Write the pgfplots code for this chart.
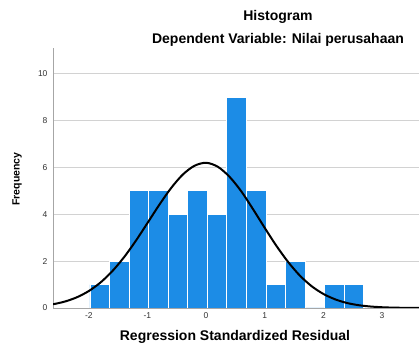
\documentclass[border=0pt]{standalone}
\usepackage{fontspec}
\setmainfont{Liberation Sans}
\usepackage{pgfplots}
\pgfplotsset{compat=1.18}
\definecolor{barblue}{RGB}{28,140,230}
\begin{document}
\begin{tikzpicture}[x=1pt,y=1pt]
\useasboundingbox (0pt,0pt) rectangle (419pt,344pt);
\begin{axis}[
  at={(53pt,36pt)}, anchor=south west,
  scale only axis, width=366pt, height=260pt,
  xmin=-2.61, xmax=3.63, ymin=0, ymax=11.1,
  axis x line*=bottom, axis y line*=left,
  axis line style={gray!70, -},
  xtick={-2,-1,0,1,2,3}, ytick={0,2,4,6,8,10},
  major tick length=0pt,
  ymajorgrids, grid style={gray!35, line width=0.6pt},
  /pgf/number format/assume math mode=true,
  tick label style={font=\fontsize{8.5}{9}\selectfont, text=black!80},
  yticklabel style={xshift=-2pt},
  xticklabel style={yshift=-1pt},
  clip=true,
]
\addplot[ybar interval, fill=barblue, draw=white, line width=0.8pt] coordinates {
(-1.980,1) (-1.647,2) (-1.313,5) (-0.980,5) (-0.647,4) (-0.313,5) (0.020,4)
(0.353,9) (0.687,5) (1.020,1) (1.353,2) (1.687,0) (2.020,1) (2.353,1) (2.687,1)
};
\addplot[black, line width=2pt, smooth] coordinates {
(-2.8,0.092) (-2.6,0.165) (-2.4,0.281) (-2.2,0.461) (-2.0,0.724) (-1.8,1.089)
(-1.6,1.569) (-1.4,2.165) (-1.2,2.861) (-1.0,3.625) (-0.8,4.397) (-0.6,5.110)
(-0.4,5.690) (-0.2,6.069) (0.0,6.200) (0.2,6.030) (0.4,5.600) (0.6,4.980)
(0.8,4.220) (1.0,3.420) (1.2,2.650) (1.4,1.960) (1.6,1.380) (1.8,0.930)
(2.0,0.600) (2.2,0.370) (2.4,0.215) (2.6,0.120) (2.8,0.064) (3.0,0.032)
(3.2,0.015) (3.4,0.007) (3.6,0.003) (3.8,0.001)
};
\end{axis}
\node[font=\bfseries\fontsize{14}{16}\selectfont] at (278pt,327pt) {Histogram};
\node[font=\bfseries\fontsize{14}{16}\selectfont] at (278pt,304pt) {Dependent Variable: Nilai perusahaan};
\node[font=\bfseries\fontsize{14}{16}\selectfont] at (235pt,7pt) {Regression Standardized Residual};
\node[font=\bfseries\fontsize{10.5}{12}\selectfont, rotate=90] at (17pt,165pt) {Frequency};
\end{tikzpicture}
\end{document}
